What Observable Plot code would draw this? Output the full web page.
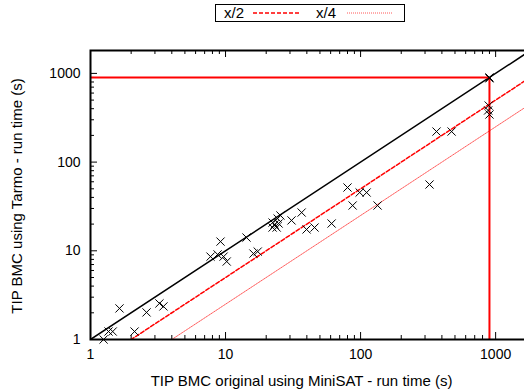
<!DOCTYPE html>
<html>
<head>
<meta charset="utf-8">
<script src="https://cdn.jsdelivr.net/npm/d3@7"></script>
<script src="https://cdn.jsdelivr.net/npm/@observablehq/plot@0.6"></script>
<style>
  html, body { margin: 0; padding: 0; background: white; overflow: hidden; }
  #wrap { width: 524px; height: 391px; overflow: hidden; position: relative; font-family: "Liberation Sans", Arial, sans-serif; }
  #legend { height: 26px; position: relative; }
  #legend .box { position: absolute; left: 215px; top: 4px; width: 188px; height: 16px; border: 1.5px solid black; }
  #legend .lab { position: absolute; top: 4px; font-size: 15px; line-height: 18px; color: black; }
  #legend svg.sample { position: absolute; top: 6px; }
  #chart svg { max-width: none !important; display: block; }
  #ytitle { position: absolute; left: 17px; top: 196px; transform: translate(-50%, -50%) rotate(-90deg); white-space: nowrap; font-size: 15px; color: black; line-height: 18px; }
</style>
</head>
<body>
<div id="wrap">
  <div id="legend"></div>
  <div id="chart"></div>
  <div id="ytitle"></div>
</div>
<script>
// ---- data ----
const xOriginal = [1.25, 1.36, 1.46, 1.64, 2.12, 2.6, 3.24, 3.47, 7.74, 9.18, 8.73, 9.67, 10.2, 14.3, 16.1, 17.3,
  25.5, 24.3, 22.3, 23.1, 23.9, 22.3, 24.7, 30.8, 36.6, 39.8, 45.6, 61, 80, 87.3, 98.4, 110.8, 133.6, 324, 365, 472,
  888, 880, 900, 900, 900];
const yTarmo = [1.0, 1.23, 1.23, 2.24, 1.23, 2.02, 2.55, 2.36, 8.6, 12.7, 9.1, 8.6, 7.57, 14.1, 9.3, 9.8,
  25, 23.1, 20.8, 19.8, 18.3, 18.3, 20.3, 22, 27, 17.4, 18.3, 20.3, 51.7, 32.4, 45.4, 45.4, 32.4, 55.9, 221, 221,
  434, 382, 344, 900, 880];
const timeout = [900];
const diagX = [1, 2000];
const diagDivisors = [1, 2, 4];
const legendLabels = ["x/2", "x/4"];
const majorTicks = [1, 10, 100, 1000];
const minorTicks = [2,3,4,5,6,7,8,9,20,30,40,50,60,70,80,90,200,300,400,500,600,700,800,900];
const xTitle = "TIP BMC original using MiniSAT - run time (s)";
const yTitle = "TIP BMC using Tarmo - run time (s)";
const domainMax = 1812;

const points = xOriginal.map((x, i) => ({x, y: yTarmo[i]}));
const diag = diagDivisors.map(k => diagX.map(x => ({x, y: x / k})));

// ---- legend ----
const legend = document.getElementById("legend");
legend.innerHTML = `<div class="box"></div>
  <div class="lab" style="left:224px">${legendLabels[0]}</div>
  <svg class="sample" style="left:252px" width="48" height="14"><line x1="1" x2="47" y1="7" y2="7" stroke="red" stroke-width="1.5" stroke-dasharray="4,2"/></svg>
  <div class="lab" style="left:316px">${legendLabels[1]}</div>
  <svg class="sample" style="left:346px" width="48" height="14"><line x1="1" x2="47" y1="7" y2="7" stroke="#ff3030" stroke-width="1" stroke-dasharray="1,1" opacity="0.8"/></svg>`;
document.getElementById("ytitle").textContent = yTitle;

// ---- chart ----
const W = 530, H = 365, mL = 90, mR = 0, mT = 24, mB = 52;
const fw = W - mL - mR, fh = H - mT - mB;
const font = "Liberation Sans, Arial, sans-serif";

const chart = Plot.plot({
  width: W, height: H,
  marginLeft: mL, marginRight: mR, marginTop: mT, marginBottom: mB,
  style: {fontFamily: font, fontSize: "14px", background: "white", color: "black", maxWidth: "none"},
  x: {type: "log", domain: [1, domainMax], axis: null},
  y: {type: "log", domain: [1, domainMax], axis: null},
  marks: [
    // ticks (inward)
    Plot.tickX(majorTicks, {x: d => d, insetTop: fh - 7, stroke: "black", strokeWidth: 1}),
    Plot.tickX(minorTicks, {x: d => d, insetTop: fh - 4, stroke: "black", strokeWidth: 1}),
    Plot.tickX(majorTicks, {x: d => d, insetBottom: fh - 7, stroke: "black", strokeWidth: 1}),
    Plot.tickX(minorTicks, {x: d => d, insetBottom: fh - 4, stroke: "black", strokeWidth: 1}),
    Plot.tickY(majorTicks, {y: d => d, insetRight: fw - 7, stroke: "black", strokeWidth: 1}),
    Plot.tickY(minorTicks, {y: d => d, insetRight: fw - 4, stroke: "black", strokeWidth: 1}),
    // diagonals
    Plot.line(diag[0], {x: "x", y: "y", stroke: "black", strokeWidth: 1.5, clip: true}),
    Plot.line(diag[1], {x: "x", y: "y", stroke: "red", strokeWidth: 1.5, strokeDasharray: "4,2", clip: true}),
    Plot.line(diag[2], {x: "x", y: "y", stroke: "#ff3030", strokeWidth: 1, strokeDasharray: "1,1", strokeOpacity: 0.8, clip: true}),
    // timeout lines
    Plot.ruleY(timeout, {y: d => d, x1: 1, x2: d => d, stroke: "red", strokeWidth: 2}),
    Plot.ruleX(timeout, {x: d => d, y1: 1, y2: d => d, stroke: "red", strokeWidth: 2}),
    // points
    Plot.dot(points, {x: "x", y: "y", symbol: "times", r: 3.8, stroke: "black", strokeWidth: 1}),
    // frame
    Plot.frame({stroke: "black", strokeWidth: 2}),
    // tick labels
    Plot.text(majorTicks, {x: d => d, text: d => String(d), frameAnchor: "bottom", dy: 15, lineAnchor: "middle", fontSize: 14, fill: "black"}),
    Plot.text(majorTicks, {y: d => d, text: d => String(d), frameAnchor: "left", dx: -10, textAnchor: "end", lineAnchor: "middle", fontSize: 14, fill: "black"}),
    // x title
    Plot.text([xTitle], {text: d => d, frameAnchor: "bottom", dy: 42, dx: -9, lineAnchor: "middle", fontSize: 15, fill: "black"})
  ]
});
document.getElementById("chart").appendChild(chart);
</script>
</body>
</html>
